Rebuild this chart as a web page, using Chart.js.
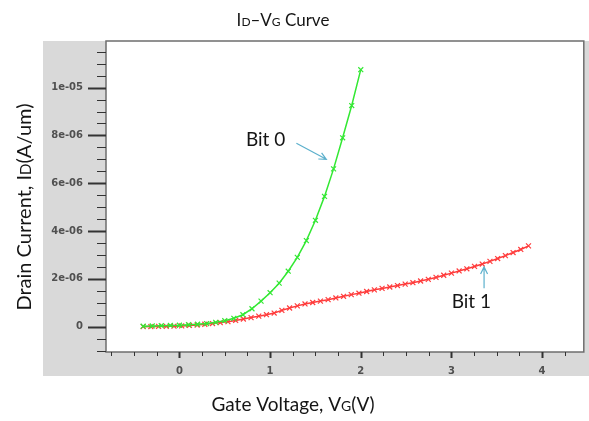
<!DOCTYPE html>
<html>
<head>
<meta charset="utf-8">
<script src="https://cdn.jsdelivr.net/npm/chart.js@4.4.1/dist/chart.umd.min.js"></script>
<style>
  html, body { margin: 0; padding: 0; background: #fff; }
  canvas { display: block; }
</style>
</head>
<body>
<canvas id="ivChart" width="589" height="421"></canvas>
<script>
// Bit 0 (green) - gate voltage (V) / drain current (A/um)
const bit0V = [-0.4, -0.3, -0.2, -0.1, 0.0, 0.1, 0.2, 0.3, 0.4, 0.5, 0.6, 0.7, 0.8,
               0.9, 1.0, 1.1, 1.2, 1.3, 1.4, 1.5, 1.6, 1.7, 1.8, 1.9, 2.0];
const bit0I = [0.02e-6, 0.03e-6, 0.04e-6, 0.05e-6, 0.06e-6, 0.08e-6, 0.10e-6, 0.13e-6, 0.18e-6,
               0.25e-6, 0.35e-6, 0.50e-6, 0.75e-6, 1.07e-6, 1.42e-6, 1.82e-6, 2.32e-6, 2.90e-6,
               3.60e-6, 4.45e-6, 5.45e-6, 6.60e-6, 7.90e-6, 9.25e-6, 10.75e-6];

// Bit 1 (red)
const bit1V = [-0.400, -0.315, -0.230, -0.145, -0.060, 0.025, 0.110, 0.195, 0.280, 0.365,
               0.450, 0.535, 0.620, 0.705, 0.790, 0.875, 0.960, 1.045, 1.130, 1.215,
               1.300, 1.385, 1.470, 1.555, 1.640, 1.725, 1.810, 1.895, 1.980, 2.065,
               2.150, 2.235, 2.320, 2.405, 2.490, 2.575, 2.660, 2.745, 2.830, 2.915,
               3.000, 3.085, 3.170, 3.255, 3.340, 3.425, 3.510, 3.595, 3.680, 3.765, 3.850];
const bit1I = [0.00e-6, 0.005e-6, 0.01e-6, 0.015e-6, 0.02e-6, 0.03e-6, 0.05e-6, 0.07e-6, 0.10e-6, 0.13e-6,
               0.17e-6, 0.21e-6, 0.26e-6, 0.32e-6, 0.38e-6, 0.44e-6, 0.50e-6, 0.57e-6, 0.68e-6, 0.78e-6,
               0.87e-6, 0.95e-6, 1.01e-6, 1.07e-6, 1.13e-6, 1.20e-6, 1.27e-6, 1.34e-6, 1.40e-6, 1.47e-6,
               1.54e-6, 1.60e-6, 1.66e-6, 1.72e-6, 1.78e-6, 1.84e-6, 1.91e-6, 1.98e-6, 2.06e-6, 2.15e-6,
               2.24e-6, 2.33e-6, 2.42e-6, 2.52e-6, 2.62e-6, 2.73e-6, 2.85e-6, 2.97e-6, 3.10e-6, 3.23e-6, 3.38e-6];

// tick labels
const xTickValues = [0, 1, 2, 3, 4];
const xTickLabels = ['0', '1', '2', '3', '4'];
const yTickValues = [0, 2e-6, 4e-6, 6e-6, 8e-6, 1e-5];
const yTickLabels = ['0', '2e-06', '4e-06', '6e-06', '8e-06', '1e-05'];

const arrowColor = '#5cb0cc';
const textFont = 'Lato, "Open Sans", sans-serif';

// draw text made of pieces with different sizes (small caps subscripts)
function drawPieces(ctx, parts, x, y) {
    let total = 0;
    parts.forEach(p => {
        ctx.font = p[1] + 'px ' + textFont;
        total += ctx.measureText(p[0]).width;
    });
    let cx = x - total / 2;
    ctx.textAlign = 'left';
    ctx.textBaseline = 'alphabetic';
    parts.forEach(p => {
        ctx.font = p[1] + 'px ' + textFont;
        ctx.fillText(p[0], cx, y);
        cx += ctx.measureText(p[0]).width;
    });
}

function drawArrow(ctx, x1, y1, x2, y2) {
    const a = Math.atan2(y2 - y1, x2 - x1);
    const h = 8;
    ctx.beginPath();
    ctx.moveTo(x1, y1);
    ctx.lineTo(x2, y2);
    ctx.moveTo(x2 - h * Math.cos(a - 0.45), y2 - h * Math.sin(a - 0.45));
    ctx.lineTo(x2, y2);
    ctx.lineTo(x2 - h * Math.cos(a + 0.45), y2 - h * Math.sin(a + 0.45));
    ctx.stroke();
}

const framePlugin = {
    id: 'frame',
    beforeDraw(chart) {
        const {ctx, chartArea: area, scales} = chart;
        ctx.save();
        ctx.fillStyle = '#d9d9d9';
        ctx.fillRect(scales.y.left, area.top, chart.width - scales.y.left, scales.x.bottom - area.top);
        ctx.fillStyle = '#ffffff';
        ctx.fillRect(area.left, area.top, area.right - area.left, area.bottom - area.top);
        ctx.restore();
    },
    afterDraw(chart) {
        const {ctx, chartArea: area, scales} = chart;
        const xs = scales.x, ys = scales.y;
        ctx.save();

        // plot box
        ctx.strokeStyle = '#6e6e6e';
        ctx.lineWidth = 1.5;
        ctx.strokeRect(area.left, area.top, area.right - area.left, area.bottom - area.top);

        // tick marks, major and minor
        ctx.strokeStyle = '#333';
        ys.ticks.forEach(t => {
            const major = yTickValues.some(v => Math.abs(v - t.value) < 1e-9);
            const py = Math.round(ys.getPixelForValue(t.value)) + 0.5;
            ctx.lineWidth = major ? 2 : 1;
            ctx.beginPath();
            ctx.moveTo(area.left - (major ? 18 : 9), py);
            ctx.lineTo(area.left, py);
            ctx.stroke();
        });
        xs.ticks.forEach(t => {
            const major = xTickValues.some(v => Math.abs(v - t.value) < 1e-6);
            const px = Math.round(xs.getPixelForValue(t.value)) + 0.5;
            ctx.lineWidth = major ? 2 : 1;
            ctx.beginPath();
            ctx.moveTo(px, area.bottom);
            ctx.lineTo(px, area.bottom + (major ? 6 : 4));
            ctx.stroke();
        });

        // titles
        ctx.fillStyle = '#151515';
        drawPieces(ctx, [['I', 17], ['D', 12], ['\u2013V', 17], ['G', 12], [' Curve', 17]], 283, 26);
        drawPieces(ctx, [['Gate Voltage, V', 19], ['G', 14], ['(V)', 19]], 293, 411);
        ctx.save();
        ctx.translate(31, 207);
        ctx.rotate(-Math.PI / 2);
        drawPieces(ctx, [['Drain Current, I', 20], ['D', 15], ['(A/um)', 20]], 0, 0);
        ctx.restore();

        // annotations, placed in data coordinates
        const X = v => xs.getPixelForValue(v);
        const Y = v => ys.getPixelForValue(v);
        ctx.fillStyle = '#151515';
        drawPieces(ctx, [['Bit 0', 19]], X(0.95), Y(7.55e-6));
        drawPieces(ctx, [['Bit 1', 19]], X(3.22), Y(0.78e-6));
        ctx.strokeStyle = arrowColor;
        ctx.lineWidth = 1.2;
        drawArrow(ctx, X(1.29), Y(7.67e-6), X(1.62), Y(7.0e-6));
        drawArrow(ctx, X(3.36), Y(1.61e-6), X(3.36), Y(2.5e-6));

        ctx.restore();
    }
};

const ctx = document.getElementById('ivChart').getContext('2d');

new Chart(ctx, {
    type: 'scatter',
    data: {
        datasets: [{
            label: 'Bit 0',
            data: bit0V.map((v, i) => ({x: v, y: bit0I[i]})),
            showLine: true,
            borderColor: '#33e833',
            backgroundColor: '#33e833',
            borderWidth: 1.5,
            pointStyle: 'crossRot',
            pointRadius: 3.5,
            pointBorderWidth: 1.2,
            pointBorderColor: '#33e833',
            order: 1
        }, {
            label: 'Bit 1',
            data: bit1V.map((v, i) => ({x: v, y: bit1I[i]})),
            showLine: true,
            borderColor: '#ff3c3c',
            backgroundColor: '#ff3c3c',
            borderWidth: 1.5,
            pointStyle: 'crossRot',
            pointRadius: 3.5,
            pointBorderWidth: 1.2,
            pointBorderColor: '#ff3c3c',
            order: 2
        }]
    },
    options: {
        responsive: false,
        animation: false,
        devicePixelRatio: 1,
        layout: {
            padding: {left: 43, top: 41, right: 2, bottom: 45}
        },
        scales: {
            x: {
                type: 'linear',
                min: -0.81,
                max: 4.46,
                grid: {display: false, drawTicks: false, tickLength: 0},
                border: {display: false},
                afterFit: scale => { scale.height = 24; },
                ticks: {
                    stepSize: 0.25,
                    includeBounds: false,
                    autoSkip: false,
                    maxRotation: 0,
                    padding: 13,
                    color: '#505050',
                    font: {family: 'DejaVu Sans', size: 10, weight: 'bold'},
                    callback: function(value) {
                        const k = xTickValues.findIndex(t => Math.abs(t - value) < 1e-6);
                        return k >= 0 ? xTickLabels[k] : '';
                    }
                }
            },
            y: {
                type: 'linear',
                min: -1.06e-6,
                max: 1.195e-5,
                grid: {display: false, drawTicks: false, tickLength: 0},
                border: {display: false},
                afterFit: scale => { scale.width = 63; },
                ticks: {
                    stepSize: 0.5e-6,
                    includeBounds: false,
                    autoSkip: false,
                    padding: 23,
                    color: '#505050',
                    font: {family: 'DejaVu Sans', size: 10, weight: 'bold'},
                    callback: function(value) {
                        const k = yTickValues.findIndex(t => Math.abs(t - value) < 1e-9);
                        return k >= 0 ? yTickLabels[k] : '';
                    }
                }
            }
        },
        plugins: {
            legend: {display: false},
            tooltip: {enabled: false}
        }
    },
    plugins: [framePlugin]
});
</script>
</body>
</html>
